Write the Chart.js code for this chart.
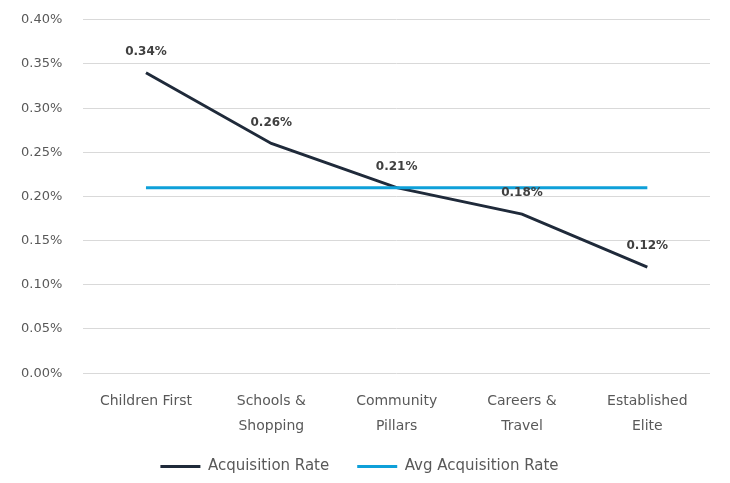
<!DOCTYPE html>
<html>
<head>
<meta charset="utf-8">
<script src="https://cdn.jsdelivr.net/npm/chart.js@4/dist/chart.umd.min.js"></script>
<style>
  html, body { margin: 0; padding: 0; background: #fff; }
  #wrap { width: 730px; height: 483px; }
</style>
</head>
<body>
<div id="wrap"><canvas id="chart"></canvas></div>
<script>
  // Segments along the x axis (multi-line labels as arrays)
  const segments = [
    "Children First",
    ["Schools &", "Shopping"],
    ["Community", "Pillars"],
    ["Careers &", "Travel"],
    ["Established", "Elite"]
  ];
  // Rates in percent
  const acquisitionRate = [0.34, 0.26, 0.21, 0.18, 0.12];
  const avgAcquisitionRate = [0.21, 0.21, 0.21, 0.21, 0.21];
  const yTicks = [0, 0.05, 0.1, 0.15, 0.2, 0.25, 0.3, 0.35, 0.4];

  const FONT = "'DejaVu Sans', sans-serif";
  const GREY = "#595959";

  // Bold value labels above each point of the first series
  const valueLabels = {
    id: "valueLabels",
    afterDatasetsDraw(chart) {
      const ctx = chart.ctx;
      const meta = chart.getDatasetMeta(0);
      ctx.save();
      ctx.font = "bold 12px " + FONT;
      ctx.fillStyle = "#404040";
      ctx.textAlign = "center";
      ctx.textBaseline = "bottom";
      meta.data.forEach((pt, i) => {
        ctx.fillText(acquisitionRate[i].toFixed(2) + "%", pt.x, pt.y - 15);
      });
      ctx.restore();
    }
  };

  // Wide spacing between legend items without the legend eating plot height
  const legendFit = {
    id: "legendFit",
    beforeInit(chart) {
      const fit = chart.legend.fit;
      chart.legend.fit = function () {
        fit.call(this);
        this.height = 52;
      };
    }
  };

  new Chart(document.getElementById("chart"), {
    type: "line",
    data: {
      labels: segments,
      datasets: [
        {
          label: "Acquisition Rate",
          data: acquisitionRate,
          borderColor: "#1f2a3a",
          backgroundColor: "#1f2a3a",
          borderWidth: 3,
          pointRadius: 0,
          tension: 0,
          order: 2
        },
        {
          label: "Avg Acquisition Rate",
          data: avgAcquisitionRate,
          borderColor: "#0ea0d9",
          backgroundColor: "#0ea0d9",
          borderWidth: 3,
          pointRadius: 0,
          tension: 0,
          order: 1
        }
      ]
    },
    options: {
      responsive: true,
      maintainAspectRatio: false,
      animation: false,
      layout: {
        padding: { top: 0, right: 20, left: 9, bottom: 0 }
      },
      plugins: {
        tooltip: { enabled: false },
        legend: {
          position: "bottom",
          labels: {
            usePointStyle: true,
            pointStyle: "line",
            pointStyleWidth: 40,
            color: GREY,
            padding: 28,
            font: { family: FONT, size: 15 },
            sort: (a, b) => a.datasetIndex - b.datasetIndex
          }
        }
      },
      scales: {
        x: {
          offset: true,
          grid: { display: false },
          border: { display: false },
          afterFit: (axis) => {
            // tighter axis box; let the second label line spill below it
            axis.height -= 16;
            axis._computeLabelArea = () => undefined;
          },
          ticks: {
            color: GREY,
            maxRotation: 0,
            font: { family: FONT, size: 14, lineHeight: 1.78 },
            padding: 8
          }
        },
        y: {
          min: yTicks[0],
          max: yTicks[yTicks.length - 1],
          afterBuildTicks: (axis) => {
            axis.ticks = yTicks.map((v) => ({ value: v }));
          },
          grid: {
            color: "#d9d9d9",
            lineWidth: 1,
            drawTicks: true,
            tickLength: 9,
            tickColor: "rgba(0,0,0,0)"
          },
          border: { display: false },
          ticks: {
            color: GREY,
            padding: 12,
            font: { family: FONT, size: 13 },
            callback: (v) => v.toFixed(2) + "%"
          }
        }
      }
    },
    plugins: [valueLabels, legendFit]
  });
</script>
</body>
</html>
